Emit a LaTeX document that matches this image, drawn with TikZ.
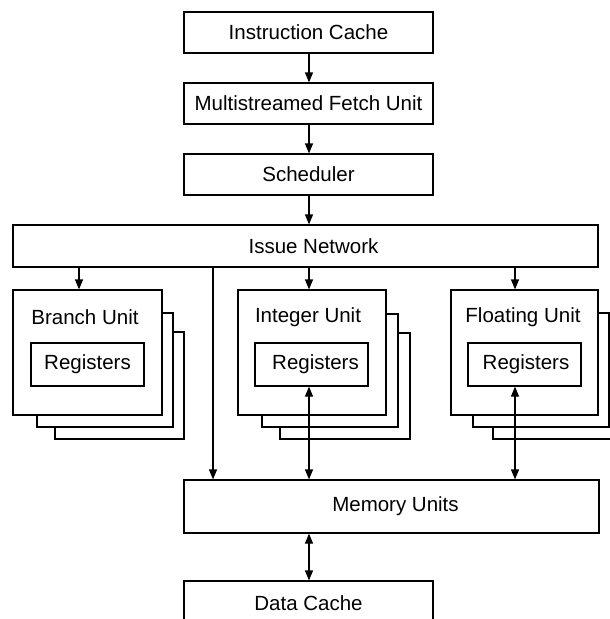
\documentclass[tikz,border=0pt]{standalone}
\usepackage{fontspec}
\setmainfont{Liberation Sans}
\usetikzlibrary{arrows.meta}
\begin{document}
\begin{tikzpicture}[x=1pt,y=-1pt,
  every node/.style={inner sep=0pt,font=\fontsize{20.5}{24}\selectfont},
  box/.style={draw,line width=1.2pt,fill=white,rectangle},
  shadowbox/.style={draw,line width=1.2pt,fill=white,rectangle},
  arr/.style={line width=1.2pt,-{Triangle[length=10pt,width=8pt]}},
  darr/.style={line width=1.2pt,{Triangle[length=10pt,width=8pt]}-{Triangle[length=10pt,width=8pt]}}]
\clip (0,0) rectangle (610,619);
\fill[white] (0,0) rectangle (610,619);
\tikzset{line width=1.2pt}
% top column
\node[box,minimum width=249pt,minimum height=41pt] (ic) at (308.5,32.5) {Instruction Cache};
\node[box,minimum width=249pt,minimum height=41pt] (mf) at (308.5,103.5) {Multistreamed Fetch Unit};
\node[box,minimum width=249pt,minimum height=41pt] (sch) at (308.5,174.5) {Scheduler};
\node[box,minimum width=585pt,minimum height=42pt,
  label={[xshift=8pt]center:Issue Network}] (issue) at (305.5,246) {};
% branch unit stack
\node[shadowbox,minimum width=129pt,minimum height=107pt] (bs2) at (119.5,385.5) {};
\node[shadowbox,minimum width=136pt,minimum height=114pt] (bs1) at (105,370) {};
\node[box,minimum width=149pt,minimum height=125pt] (branch) at (87.5,352.5) {};
\node (blab) at (85,317) {Branch Unit};
\node[box,minimum width=113pt,minimum height=43pt] (breg) at (87.5,364.5) {Registers};
% integer unit stack
\node[shadowbox,minimum width=130pt,minimum height=106pt] (is2) at (345,386) {};
\node[shadowbox,minimum width=136pt,minimum height=113pt] (is1) at (330,370.5) {};
\node[box,minimum width=148pt,minimum height=125pt] (int) at (312,352.5) {};
\node (ilab) at (308,317) {Integer Unit};
\node[box,minimum width=113pt,minimum height=43pt] (ireg) at (311.5,364.5) {\hspace*{8pt}Registers};
% floating unit stack
\node[shadowbox,minimum width=129pt,minimum height=107pt] (fs2) at (557.5,385.5) {};
\node[shadowbox,minimum width=136pt,minimum height=114pt] (fs1) at (541,370) {};
\node[box,minimum width=147pt,minimum height=125pt] (flt) at (524.5,352.5) {};
\node (flab) at (523,317) {Floating Unit};
\node[box,minimum width=113pt,minimum height=43pt] (freg) at (524.5,364.5) {\hspace*{3pt}Registers};
% memory and data cache
\node[box,minimum width=415pt,minimum height=53pt,
  label={[xshift=4pt]center:Memory Units}] (mem) at (391.5,506.5) {};
\node[box,minimum width=249pt,minimum height=44pt] (dc) at (308.5,603) {Data Cache};
% column coordinates
\coordinate (colB) at (79,0);
\coordinate (colI) at (309,0);
\coordinate (colF) at (515,0);
\coordinate (colM) at (213,0);
% connectors
\draw[arr] (ic.south -| colI) -- (mf.north -| colI);
\draw[arr] (mf.south -| colI) -- (sch.north -| colI);
\draw[arr] (sch.south -| colI) -- (issue.north -| colI);
\draw[arr] (issue.south -| colB) -- (branch.north -| colB);
\draw[arr] (issue.south -| colI) -- (int.north -| colI);
\draw[arr] (issue.south -| colF) -- (flt.north -| colF);
\draw[arr] (issue.south -| colM) -- (mem.north -| colM);
\draw[darr] (ireg.south -| colI) -- (mem.north -| colI);
\draw[darr] (freg.south -| colF) -- (mem.north -| colF);
\draw[darr] (mem.south -| colI) -- (dc.north -| colI);
\end{tikzpicture}
\end{document}
